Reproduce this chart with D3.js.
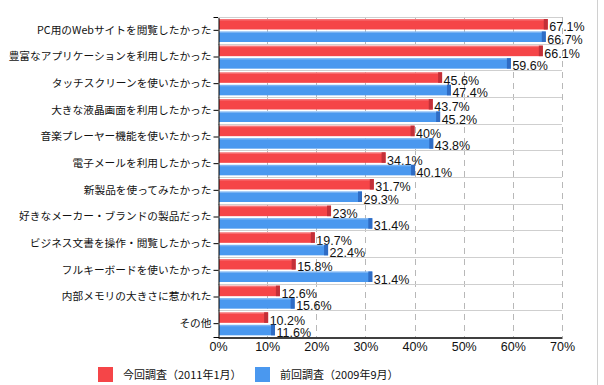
<!DOCTYPE html>
<html>
<head>
<meta charset="utf-8">
<script src="https://cdn.jsdelivr.net/npm/d3@7"></script>
<style>
  body { margin: 0; background: #fff; }
  svg { display: block; }
</style>
</head>
<body>
<div id="chart"></div>
<script>
const categories = [
  "PC用のWebサイトを閲覧したかった",
  "豊富なアプリケーションを利用したかった",
  "タッチスクリーンを使いたかった",
  "大きな液晶画面を利用したかった",
  "音楽プレーヤー機能を使いたかった",
  "電子メールを利用したかった",
  "新製品を使ってみたかった",
  "好きなメーカー・ブランドの製品だった",
  "ビジネス文書を操作・閲覧したかった",
  "フルキーボードを使いたかった",
  "内部メモリの大きさに惹かれた",
  "その他"
];
const current = [67.1, 66.1, 45.6, 43.7, 40, 34.1, 31.7, 23, 19.7, 15.8, 12.6, 10.2];
const previous = [66.7, 59.6, 47.4, 45.2, 43.8, 40.1, 29.3, 31.4, 22.4, 31.4, 15.6, 11.6];
const seriesNames = ["今回調査（2011年1月）", "前回調査（2009年9月）"];
const xTicks = [0, 10, 20, 30, 40, 50, 60, 70];

const W = 604, H = 385;
const plotL = 218, plotR = 562, plotT = 17, plotB = 337;
const jp = "'Noto Sans CJK JP', 'Noto Sans', sans-serif";
const num = "'Liberation Sans', Arial, sans-serif";

const colors = ["#f54548", "#4a98ef"];
const darks = ["#c23038", "#2f6cc4"];

const svg = d3.select("#chart").append("svg")
  .attr("width", W).attr("height", H);

// border at right
svg.append("line")
  .attr("x1", 597.5).attr("x2", 597.5).attr("y1", 0).attr("y2", H)
  .attr("stroke", "#d0d0d0");

const x = d3.scaleLinear().domain([0, 70]).range([plotL, plotR]);
const y = d3.scaleBand().domain(categories).range([plotT, plotB]);

// vertical dashed grid
svg.append("g").selectAll("line")
  .data(xTicks.slice(1))
  .enter().append("line")
  .attr("x1", d => Math.round(x(d)) + 0.5)
  .attr("x2", d => Math.round(x(d)) + 0.5)
  .attr("y1", plotT).attr("y2", plotB)
  .attr("stroke", "#b8b8b8")
  .attr("stroke-dasharray", "6,5");

// horizontal separators
svg.append("g").selectAll("line")
  .data(categories)
  .enter().append("line")
  .attr("x1", plotL).attr("x2", plotR)
  .attr("y1", d => Math.round(y(d)) + 0.5)
  .attr("y2", d => Math.round(y(d)) + 0.5)
  .attr("stroke", "#cfcfcf");

const rows = categories.map((c, i) => ({ c, v: [current[i], previous[i]] }));

const offs = [{ dy: 2, h: 10.5 }, { dy: 14.5, h: 10.5 }];

[0, 1].forEach(s => {
  const g = svg.append("g");
  const bars = g.selectAll("g")
    .data(rows)
    .enter().append("g");

  bars.append("rect")
    .attr("x", plotL + 1)
    .attr("y", d => y(d.c) + offs[s].dy)
    .attr("width", d => x(d.v[s]) - plotL - 1)
    .attr("height", offs[s].h)
    .attr("fill", colors[s]);

  bars.append("rect")
    .attr("x", d => x(d.v[s]) - 4)
    .attr("y", d => y(d.c) + offs[s].dy)
    .attr("width", 4)
    .attr("height", offs[s].h)
    .attr("fill", darks[s]);

  bars.append("rect")
    .attr("x", plotL + 1)
    .attr("y", d => y(d.c) + offs[s].dy)
    .attr("width", d => x(d.v[s]) - plotL - 5)
    .attr("height", 1.5)
    .attr("fill", "#fff")
    .attr("opacity", 0.25);

  bars.append("text")
    .attr("x", d => x(d.v[s]) + 1.5)
    .attr("y", d => y(d.c) + offs[s].dy + offs[s].h / 2 + 7)
    .attr("font-family", num)
    .attr("font-size", "12.5px")
    .attr("fill", "#111")
    .text(d => d.v[s] + "%");
});

// left axis
const yAxis = d3.axisLeft(y).tickSize(5).tickPadding(2);
const ya = svg.append("g")
  .attr("transform", `translate(${plotL + 0.5},0)`)
  .call(yAxis);
ya.select(".domain").attr("stroke", "#000");
ya.selectAll(".tick line").attr("stroke", "#000");
ya.selectAll("text")
  .attr("font-family", jp)
  .attr("font-size", "10.7px")
  .attr("fill", "#111");

// bottom axis
const xAxis = d3.axisBottom(x).tickValues(xTicks).tickSize(0).tickPadding(5)
  .tickFormat(d => d + "%");
const xa = svg.append("g")
  .attr("transform", `translate(0,${plotB + 0.5})`)
  .call(xAxis);
xa.select(".domain").attr("stroke", "#000").attr("stroke-width", 1.5);
xa.selectAll("text")
  .attr("font-family", num)
  .attr("font-size", "12.5px")
  .attr("fill", "#111");

// top border
svg.append("line")
  .attr("x1", plotL).attr("x2", plotR)
  .attr("y1", plotT + 0.5).attr("y2", plotT + 0.5)
  .attr("stroke", "#cfcfcf");

// legend
const legendX = [98, 255];
const lg = svg.append("g").selectAll("g")
  .data(seriesNames)
  .enter().append("g")
  .attr("transform", (d, i) => `translate(${legendX[i]},367)`);
lg.append("rect")
  .attr("width", 15).attr("height", 15)
  .attr("fill", (d, i) => colors[i]);
lg.append("text")
  .attr("x", 25).attr("y", 12)
  .attr("font-family", jp)
  .attr("font-size", "11px")
  .attr("fill", "#111")
  .text(d => d);
</script>
</body>
</html>
